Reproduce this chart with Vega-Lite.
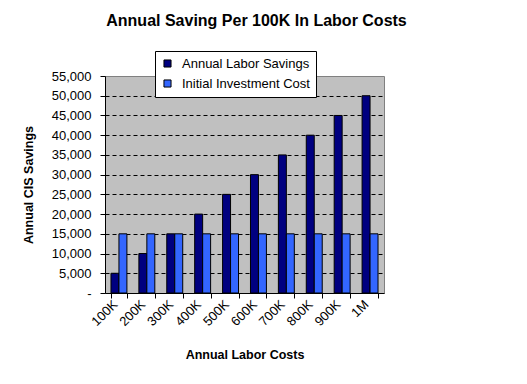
{
  "$schema": "https://vega.github.io/schema/vega-lite/v6.json",
  "autosize": "none",
  "width": 279,
  "height": 217,
  "padding": {"left": 105, "top": 76, "right": 143, "bottom": 91},
  "background": "white",
  "title": {
    "text": "Annual Saving Per 100K In Labor Costs",
    "font": "Liberation Sans",
    "fontSize": 16,
    "fontWeight": "bold",
    "color": "black",
    "anchor": "middle",
    "dx": 12,
    "offset": 22
  },
  "data": {
    "values": [
      {"cost": "100K", "series": "Annual Labor Savings", "value": 5000},
      {"cost": "100K", "series": "Initial Investment Cost", "value": 15000},
      {"cost": "200K", "series": "Annual Labor Savings", "value": 10000},
      {"cost": "200K", "series": "Initial Investment Cost", "value": 15000},
      {"cost": "300K", "series": "Annual Labor Savings", "value": 15000},
      {"cost": "300K", "series": "Initial Investment Cost", "value": 15000},
      {"cost": "400K", "series": "Annual Labor Savings", "value": 20000},
      {"cost": "400K", "series": "Initial Investment Cost", "value": 15000},
      {"cost": "500K", "series": "Annual Labor Savings", "value": 25000},
      {"cost": "500K", "series": "Initial Investment Cost", "value": 15000},
      {"cost": "600K", "series": "Annual Labor Savings", "value": 30000},
      {"cost": "600K", "series": "Initial Investment Cost", "value": 15000},
      {"cost": "700K", "series": "Annual Labor Savings", "value": 35000},
      {"cost": "700K", "series": "Initial Investment Cost", "value": 15000},
      {"cost": "800K", "series": "Annual Labor Savings", "value": 40000},
      {"cost": "800K", "series": "Initial Investment Cost", "value": 15000},
      {"cost": "900K", "series": "Annual Labor Savings", "value": 45000},
      {"cost": "900K", "series": "Initial Investment Cost", "value": 15000},
      {"cost": "1M", "series": "Annual Labor Savings", "value": 50000},
      {"cost": "1M", "series": "Initial Investment Cost", "value": 15000}
    ]
  },
  "mark": {"type": "bar", "stroke": "black", "strokeWidth": 1},
  "encoding": {
    "x": {
      "field": "cost",
      "type": "nominal",
      "sort": ["100K", "200K", "300K", "400K", "500K", "600K", "700K", "800K", "900K", "1M"],
      "scale": {"paddingInner": 0.4286, "paddingOuter": 0.2143},
      "axis": {
        "title": "Annual Labor Costs",
        "titleFont": "Liberation Sans",
        "titleFontSize": 12.5,
        "titleFontWeight": "bold",
        "titleColor": "black",
        "titlePadding": 20,
        "labelFont": "Liberation Sans",
        "labelFontSize": 13,
        "labelColor": "black",
        "labelAngle": -45,
        "labelAlign": "right",
        "labelBaseline": "middle",
        "labelPadding": 4,
        "labelOffset": -4,
        "tickBand": "extent",
        "tickColor": "black",
        "tickSize": 5,
        "domainColor": "black",
        "grid": false
      }
    },
    "xOffset": {
      "field": "series",
      "type": "nominal",
      "sort": ["Annual Labor Savings", "Initial Investment Cost"],
      "scale": {"paddingInner": 0, "paddingOuter": 0}
    },
    "y": {
      "field": "value",
      "type": "quantitative",
      "scale": {"domain": [0, 55000], "nice": false},
      "axis": {
        "title": "Annual CIS Savings",
        "titleFont": "Liberation Sans",
        "titleFontSize": 12.5,
        "titleFontWeight": "bold",
        "titleColor": "black",
        "titlePadding": 16,
        "values": [0, 5000, 10000, 15000, 20000, 25000, 30000, 35000, 40000, 45000, 50000, 55000],
        "labelExpr": "datum.value == 0 ? '-' : format(datum.value, ',')",
        "labelFont": "Liberation Sans",
        "labelFontSize": 13,
        "labelColor": "black",
        "labelPadding": 9,
        "tickColor": "black",
        "tickSize": 5,
        "domainColor": "black",
        "grid": true,
        "gridColor": "black",
        "gridDash": [4, 3],
        "gridOpacity": {"condition": {"test": "datum.value == 0 || datum.value == 55000", "value": 0}, "value": 1}
      }
    },
    "color": {
      "field": "series",
      "type": "nominal",
      "sort": ["Annual Labor Savings", "Initial Investment Cost"],
      "scale": {"domain": ["Annual Labor Savings", "Initial Investment Cost"], "range": ["#000080", "#3366FF"]},
      "legend": {
        "title": null,
        "orient": "none",
        "legendX": 50,
        "legendY": -25,
        "direction": "vertical",
        "fillColor": "white",
        "strokeColor": "black",
        "padding": 6,
        "symbolType": "square",
        "symbolSize": 50,
        "symbolStrokeColor": "black",
        "symbolStrokeWidth": 1,
        "symbolOpacity": 1,
        "labelFont": "Liberation Sans",
        "labelFontSize": 13,
        "labelColor": "black",
        "labelOffset": 8,
        "rowPadding": 6,
        "cornerRadius": 0
      }
    }
  },
  "config": {
    "view": {"fill": "#C0C0C0", "stroke": "#808080", "strokeWidth": 1}
  }
}
